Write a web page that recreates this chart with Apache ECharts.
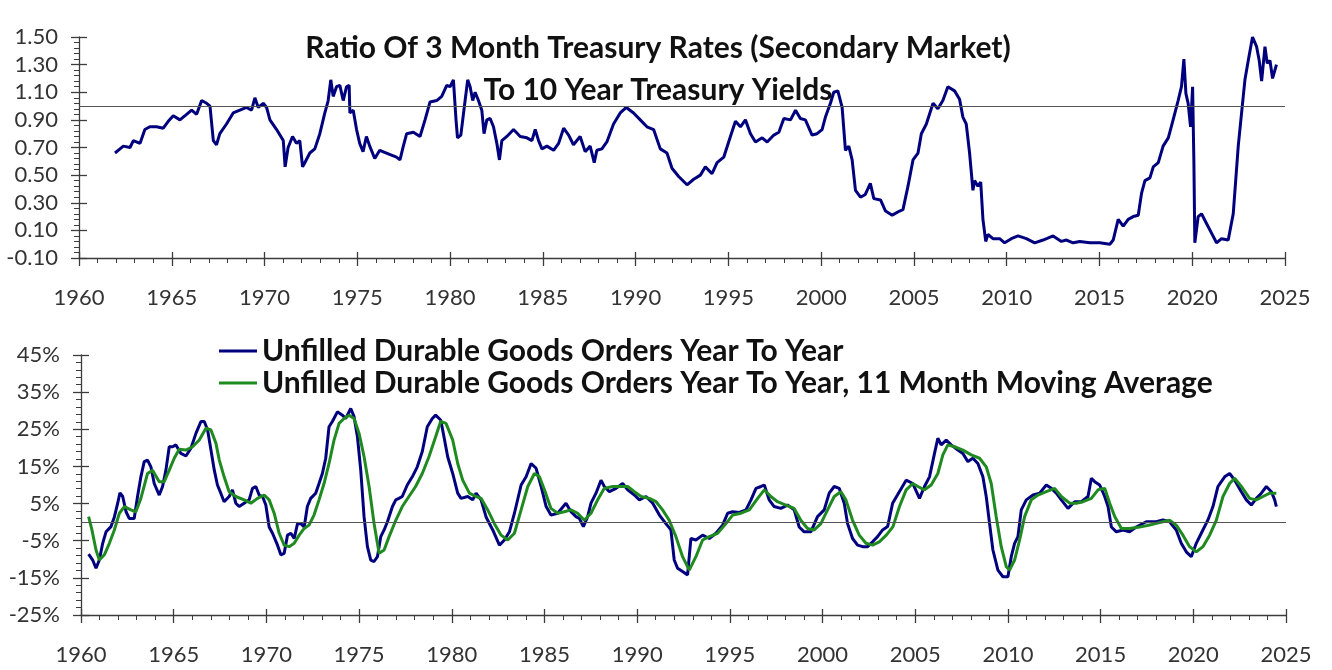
<!DOCTYPE html>
<html><head><meta charset="utf-8">
<script src="https://cdn.jsdelivr.net/npm/echarts@6/dist/echarts.min.js"></script>
<style>html,body{margin:0;padding:0;background:#fff}#c{width:1332px;height:670px}</style>
</head><body><div id="c"></div>
<script>
// ---- Top panel: ratio of 3M T-bill to 10Y yield ----
const ratioYears = [1961.94,1962.21,1962.39,1962.75,1962.93,1963.29,1963.55,1963.82,1964.18,1964.54,1964.81,1965.08,1965.44,1965.80,1966.07,1966.34,1966.61,1966.88,1967.06,1967.24,1967.41,1967.59,1967.95,1968.31,1968.67,1969.03,1969.30,1969.48,1969.66,1969.93,1970.11,1970.29,1970.65,1971.01,1971.11,1971.27,1971.51,1971.72,1971.90,1972.05,1972.17,1972.44,1972.71,1972.98,1973.25,1973.43,1973.57,1973.70,1973.88,1974.06,1974.24,1974.42,1974.56,1974.60,1974.78,1974.96,1975.13,1975.31,1975.49,1975.67,1975.94,1976.21,1976.57,1977.11,1977.30,1977.48,1977.66,1978.02,1978.38,1978.65,1978.92,1979.28,1979.55,1979.82,1980.00,1980.18,1980.32,1980.40,1980.58,1980.81,1980.95,1981.08,1981.22,1981.35,1981.53,1981.71,1981.83,1981.98,1982.16,1982.34,1982.52,1982.66,1982.79,1983.06,1983.42,1983.78,1984.14,1984.41,1984.59,1984.77,1984.95,1985.22,1985.58,1985.85,1986.12,1986.39,1986.65,1987.01,1987.28,1987.55,1987.77,1987.91,1988.18,1988.45,1988.81,1989.17,1989.50,1989.89,1990.25,1990.61,1990.97,1991.33,1991.69,1991.96,1992.32,1992.77,1993.13,1993.49,1993.76,1994.12,1994.39,1994.75,1995.11,1995.38,1995.65,1995.92,1996.19,1996.46,1996.82,1997.09,1997.45,1997.72,1997.99,1998.35,1998.62,1998.88,1999.15,1999.51,1999.78,2000.05,2000.23,2000.50,2000.68,2000.90,2001.13,2001.31,2001.49,2001.67,2001.85,2002.12,2002.38,2002.65,2002.84,2003.20,2003.47,2003.83,2004.23,2004.41,2004.68,2004.95,2005.22,2005.40,2005.67,2006.03,2006.29,2006.56,2006.83,2007.19,2007.46,2007.64,2007.82,2008.00,2008.18,2008.27,2008.45,2008.60,2008.72,2008.87,2008.99,2009.26,2009.62,2009.89,2010.25,2010.61,2011.06,2011.51,2011.96,2012.50,2012.95,2013.22,2013.58,2013.94,2014.48,2015.02,2015.56,2015.74,2016.01,2016.28,2016.55,2016.82,2017.09,2017.27,2017.45,2017.72,2017.90,2018.17,2018.43,2018.71,2018.97,2019.24,2019.42,2019.55,2019.66,2019.78,2019.91,2020.02,2020.09,2020.14,2020.32,2020.50,2020.77,2021.04,2021.31,2021.58,2021.94,2022.21,2022.48,2022.66,2022.84,2023.02,2023.25,2023.47,2023.61,2023.74,2023.92,2024.04,2024.19,2024.33,2024.54];
const ratioValues = [0.66,0.69,0.71,0.70,0.75,0.73,0.83,0.85,0.85,0.84,0.89,0.93,0.90,0.94,0.97,0.94,1.04,1.02,1.00,0.75,0.72,0.80,0.87,0.95,0.97,0.99,0.97,1.06,0.99,1.02,0.99,0.90,0.83,0.75,0.56,0.70,0.78,0.73,0.75,0.56,0.59,0.66,0.69,0.80,0.95,1.04,1.19,1.07,1.14,1.15,1.04,1.14,1.15,0.95,0.97,0.83,0.73,0.67,0.78,0.71,0.62,0.68,0.66,0.63,0.61,0.71,0.80,0.81,0.78,0.90,1.03,1.04,1.07,1.15,1.14,1.19,0.90,0.77,0.79,1.04,1.19,1.14,1.04,1.10,1.04,0.97,0.80,0.90,0.91,0.85,0.73,0.61,0.75,0.78,0.83,0.78,0.77,0.75,0.83,0.75,0.69,0.71,0.68,0.73,0.84,0.79,0.72,0.78,0.67,0.71,0.59,0.68,0.69,0.74,0.87,0.95,0.99,0.95,0.90,0.85,0.83,0.69,0.66,0.55,0.49,0.43,0.47,0.50,0.56,0.51,0.59,0.63,0.78,0.89,0.85,0.90,0.80,0.74,0.77,0.74,0.79,0.81,0.91,0.90,0.97,0.91,0.90,0.79,0.80,0.83,0.92,1.02,1.10,1.11,0.99,0.68,0.71,0.61,0.39,0.34,0.36,0.44,0.33,0.32,0.24,0.21,0.24,0.25,0.42,0.61,0.66,0.80,0.87,1.02,0.98,1.04,1.14,1.11,1.05,0.92,0.87,0.66,0.39,0.46,0.42,0.45,0.18,0.02,0.07,0.04,0.04,0.01,0.04,0.06,0.04,0.01,0.03,0.06,0.02,0.03,0.01,0.02,0.01,0.01,0.00,0.03,0.18,0.13,0.18,0.20,0.21,0.37,0.46,0.48,0.56,0.59,0.71,0.77,0.90,1.04,1.14,1.34,1.09,1.02,0.85,1.14,0.59,0.01,0.20,0.22,0.15,0.08,0.01,0.04,0.03,0.22,0.71,0.95,1.19,1.33,1.50,1.43,1.33,1.18,1.43,1.31,1.33,1.20,1.30];

// ---- Bottom panel: unfilled durable goods orders YoY (%) ----
const yoyYears = [1960.41,1960.63,1960.81,1960.99,1961.17,1961.35,1961.62,1961.80,1961.98,1962.10,1962.25,1962.43,1962.60,1962.87,1963.05,1963.23,1963.41,1963.59,1963.77,1963.95,1964.22,1964.40,1964.58,1964.76,1964.94,1965.12,1965.39,1965.66,1965.93,1966.20,1966.47,1966.65,1966.83,1967.01,1967.19,1967.36,1967.54,1967.72,1967.99,1968.17,1968.35,1968.53,1968.80,1969.07,1969.25,1969.43,1969.61,1969.79,1969.97,1970.15,1970.33,1970.60,1970.78,1970.96,1971.14,1971.32,1971.50,1971.68,1971.86,1972.04,1972.21,1972.39,1972.66,1972.84,1973.02,1973.20,1973.38,1973.56,1973.83,1974.10,1974.28,1974.55,1974.73,1974.91,1975.09,1975.27,1975.45,1975.63,1975.81,1975.99,1976.17,1976.35,1976.53,1976.80,1976.98,1977.15,1977.33,1977.60,1977.87,1978.14,1978.41,1978.68,1978.95,1979.13,1979.40,1979.51,1979.78,1980.05,1980.32,1980.50,1980.86,1981.13,1981.31,1981.58,1981.85,1982.21,1982.57,1982.84,1983.11,1983.38,1983.74,1984.01,1984.28,1984.55,1984.82,1985.09,1985.35,1985.71,1986.16,1986.43,1986.70,1986.88,1987.10,1987.33,1987.51,1987.78,1988.05,1988.23,1988.50,1988.86,1989.22,1989.49,1989.85,1990.12,1990.48,1990.84,1991.20,1991.55,1991.82,1992.00,1992.18,1992.45,1992.72,1992.90,1993.17,1993.53,1993.89,1994.25,1994.61,1994.88,1995.15,1995.51,1995.87,1996.14,1996.41,1996.68,1996.86,1997.12,1997.39,1997.75,1998.11,1998.47,1998.74,1999.01,1999.37,1999.73,2000.09,2000.36,2000.63,2000.90,2001.17,2001.35,2001.62,2001.89,2002.16,2002.43,2002.70,2002.97,2003.24,2003.51,2003.78,2004.04,2004.51,2004.87,2005.23,2005.50,2005.77,2006.04,2006.22,2006.40,2006.67,2006.94,2007.30,2007.57,2007.84,2008.11,2008.38,2008.65,2008.83,2009.01,2009.19,2009.46,2009.73,2010.00,2010.18,2010.36,2010.54,2010.72,2010.99,2011.35,2011.71,2012.07,2012.34,2012.61,2012.88,2013.24,2013.60,2013.96,2014.32,2014.50,2014.68,2014.95,2015.22,2015.40,2015.58,2015.85,2016.21,2016.56,2016.92,2017.46,2018.00,2018.36,2018.72,2019.08,2019.35,2019.62,2019.89,2020.16,2020.43,2020.79,2021.06,2021.33,2021.69,2021.96,2022.23,2022.59,2022.86,2023.13,2023.40,2023.67,2023.94,2024.21,2024.39,2024.48];
const yoyValues = [-8.6,-10.2,-12.4,-10.2,-5.7,-2.6,-1.2,1.4,5.1,7.9,6.9,2.8,1.0,1.0,6.9,12.2,16.3,16.7,14.9,10.4,7.3,9.6,14.0,20.3,20.3,20.8,18.5,17.8,19.9,23.9,27.1,27.1,24.8,19.4,14.0,10.0,7.8,5.5,6.9,8.7,5.1,4.2,5.1,6.0,9.1,9.6,7.3,6.9,4.6,-1.3,-3.0,-6.2,-8.8,-8.4,-3.5,-3.0,-4.4,-0.4,-0.4,-1.3,4.2,6.4,7.8,10.4,13.1,17.2,25.7,27.1,29.7,28.8,27.9,30.6,28.4,23.0,14.0,1.4,-6.6,-10.2,-10.6,-9.3,-3.9,-2.1,0.1,4.2,6.0,6.4,6.9,10.0,12.2,14.9,19.0,25.7,27.9,28.8,27.5,24.8,17.6,13.1,7.8,6.4,6.9,6.0,7.8,6.0,1.4,-2.1,-6.2,-4.8,-2.6,2.4,10.0,12.2,15.8,14.5,9.6,4.2,1.9,2.4,5.1,2.8,1.5,1.0,-1.2,1.5,5.1,7.8,11.3,9.6,8.2,9.1,10.4,8.7,7.3,6.0,6.9,5.1,1.9,-0.4,-2.1,-10.2,-12.4,-13.3,-14.2,-4.4,-4.8,-3.5,-4.4,-3.0,-0.8,2.4,2.8,2.6,3.3,6.0,9.1,9.6,10.0,6.0,4.2,3.7,4.6,3.3,-1.3,-2.6,-2.6,1.5,3.3,7.8,9.6,9.1,5.1,-0.4,-4.4,-6.2,-6.6,-6.6,-5.3,-3.9,-2.1,-1.2,5.1,7.3,11.3,10.4,6.4,9.6,12.2,18.5,22.6,20.8,22.1,20.8,19.4,18.5,16.3,17.2,15.8,12.2,6.9,-0.4,-7.5,-12.9,-14.7,-14.7,-9.3,-5.7,-3.9,3.3,6.0,7.3,7.8,10.0,9.1,7.8,6.0,3.7,5.5,5.5,6.9,11.8,10.9,10.0,6.9,4.2,-1.3,-2.6,-2.1,-2.6,-1.3,0.1,0.1,0.6,0.1,-2.1,-5.7,-8.0,-9.3,-5.7,-3.0,0.6,4.2,9.6,12.2,13.1,11.3,8.2,6.0,4.6,6.4,7.8,9.6,8.2,6.0,4.2];

const maYears = [1960.41,1960.59,1960.81,1960.99,1961.26,1961.53,1961.80,1962.07,1962.34,1962.69,1962.96,1963.23,1963.59,1963.86,1964.22,1964.49,1964.76,1965.03,1965.30,1965.66,1966.02,1966.38,1966.74,1967.01,1967.28,1967.46,1967.72,1967.99,1968.35,1968.80,1969.16,1969.52,1969.88,1970.15,1970.42,1970.69,1970.96,1971.23,1971.50,1971.77,1972.04,1972.30,1972.57,1972.84,1973.11,1973.38,1973.65,1973.92,1974.19,1974.46,1974.73,1975.00,1975.27,1975.54,1975.81,1976.08,1976.35,1976.62,1976.98,1977.33,1977.69,1978.05,1978.41,1978.77,1979.13,1979.40,1979.69,1980.05,1980.32,1980.59,1980.95,1981.31,1981.58,1981.94,1982.30,1982.66,1983.02,1983.38,1983.74,1984.10,1984.46,1984.73,1985.00,1985.35,1985.71,1986.07,1986.43,1986.79,1987.15,1987.51,1987.87,1988.23,1988.68,1989.14,1989.49,1989.85,1990.21,1990.66,1991.02,1991.37,1991.73,1992.09,1992.45,1992.81,1993.17,1993.53,1993.89,1994.34,1994.79,1995.15,1995.60,1996.05,1996.50,1996.86,1997.21,1997.57,1998.02,1998.47,1998.83,1999.19,1999.55,1999.91,2000.27,2000.63,2000.99,2001.26,2001.62,2001.98,2002.34,2002.70,2003.06,2003.44,2003.80,2004.15,2004.51,2004.87,2005.14,2005.50,2005.86,2006.22,2006.49,2006.76,2007.12,2007.57,2008.02,2008.47,2008.83,2009.10,2009.37,2009.64,2009.91,2010.09,2010.36,2010.63,2010.90,2011.26,2011.62,2012.07,2012.52,2012.88,2013.33,2013.69,2014.05,2014.50,2014.86,2015.22,2015.49,2015.76,2016.12,2016.56,2017.10,2017.64,2018.18,2018.72,2019.08,2019.44,2019.80,2020.16,2020.52,2020.88,2021.24,2021.60,2021.96,2022.23,2022.59,2023.04,2023.40,2023.76,2024.12,2024.48];
const maValues = [1.5,-2.1,-7.5,-10.2,-8.8,-5.7,-2.1,2.4,4.2,3.3,2.8,6.4,13.1,14.0,10.9,10.9,14.0,17.2,19.6,19.4,20.3,22.1,25.3,24.8,21.2,16.7,12.2,8.2,6.9,6.0,5.1,6.4,7.3,6.0,2.4,-3.0,-6.2,-6.6,-5.7,-3.5,-1.7,-0.8,1.9,6.0,10.4,15.8,22.1,26.6,27.9,28.8,27.9,23.9,17.6,9.6,-0.4,-8.4,-7.5,-3.9,0.5,4.2,6.9,9.6,13.1,17.6,23.0,27.1,26.6,22.1,15.8,11.3,7.8,6.9,6.4,3.3,-0.4,-3.5,-4.8,-3.0,3.3,9.6,13.1,12.2,8.7,3.7,2.4,2.8,3.3,2.4,0.5,2.4,6.0,9.1,9.6,9.6,9.6,8.2,6.9,6.4,5.5,3.3,0.5,-3.9,-9.3,-12.9,-9.3,-4.8,-3.9,-3.0,-0.4,1.9,2.4,3.3,6.4,8.7,6.9,5.5,4.6,3.7,0.5,-1.7,-2.1,-0.4,3.3,6.9,8.2,6.0,0.5,-3.5,-5.7,-6.2,-5.3,-3.5,-1.2,4.2,8.7,10.4,9.6,8.7,10.0,13.1,18.1,20.8,20.3,19.4,18.1,17.2,14.9,10.4,1.4,-6.6,-12.0,-12.9,-10.2,-4.8,1.5,6.0,7.3,8.2,9.1,6.9,5.1,5.1,5.5,6.4,8.7,9.1,5.1,1.5,-1.7,-1.7,-1.3,-0.8,-0.1,0.5,-0.8,-3.5,-6.6,-8.0,-6.6,-3.5,0.5,6.9,10.4,11.8,9.6,6.4,6.0,6.9,7.8,7.8];

const xTickLabels = ['1960','1965','1970','1975','1980','1985','1990','1995','2000','2005','2010','2015','2020','2025'];
const titleLines = ['Ratio Of 3 Month Treasury Rates (Secondary Market)', 'To 10 Year Treasury Yields'];
const seriesNames = ['Unfilled Durable Goods Orders Year To Year', 'Unfilled Durable Goods Orders Year To Year, 11 Month Moving Average'];

const zip = (xs, ys) => xs.map((x, i) => [x, ys[i]]);
const FONT = 'Lato';
const AX = '#3c3c3c';
const LBL = '#333';

function xAx(grid, main, margin) {
  return {
    type: 'value', gridIndex: grid, min: 1960, max: 2025, interval: 5, position: 'bottom',
    axisLine: { show: main, onZero: false, lineStyle: { color: AX, width: 1.3 } },
    axisTick: { show: true, inside: !main, length: main ? 8 : 6, lineStyle: { color: AX, width: 1.3 } },
    minorTick: { show: main, splitNumber: 5, length: 5, lineStyle: { color: AX, width: 1 } },
    splitLine: { show: false },
    axisLabel: { show: main, margin: margin, fontFamily: FONT, fontSize: 22, color: LBL,
      formatter: v => xTickLabels[Math.round((v - 1960) / 5)] }
  };
}
function yAx(grid, main, min, max, interval, fmt) {
  return {
    type: 'value', gridIndex: grid, min: min, max: max, interval: interval, position: 'left',
    axisLine: { show: main, onZero: false, lineStyle: { color: AX, width: 1.3 } },
    axisTick: { show: true, inside: !main, length: 8, lineStyle: { color: AX, width: 1.3 } },
    minorTick: { show: main, splitNumber: 5, length: 5, lineStyle: { color: AX, width: 1 } },
    splitLine: { show: false },
    axisLabel: { show: main, margin: 21, fontFamily: FONT, fontSize: 22, color: LBL, formatter: fmt }
  };
}

const chart = echarts.init(document.getElementById('c'), null, { renderer: 'canvas' });
chart.setOption({
  backgroundColor: '#fff',
  animation: false,
  title: {
    text: titleLines.join('\n'), left: 653, top: 22, textAlign: 'center',
    textStyle: { fontFamily: FONT, fontSize: 30, fontWeight: 'bold', color: '#111', lineHeight: 42 }
  },
  legend: {
    orient: 'vertical', left: 214, top: 330, itemGap: 0, itemWidth: 38, itemHeight: 3, icon: 'rect',
    data: seriesNames,
    textStyle: { fontFamily: FONT, fontSize: 30, fontWeight: 'bold', color: '#111', lineHeight: 32 }
  },
  grid: [
    { left: 79, top: 37, width: 1206, height: 221 },
    { left: 81, top: 355, width: 1205, height: 260 }
  ],
  xAxis: [xAx(0, true, 29), xAx(0, false, 29), xAx(1, true, 29), xAx(1, false, 29)],
  yAxis: [
    yAx(0, true, -0.1, 1.5, 0.2, v => v.toFixed(2)),
    yAx(0, false, -0.1, 1.5, 0.2, v => v.toFixed(2)),
    yAx(1, true, -25, 45, 10, v => Math.round(v) + '%'),
    yAx(1, false, -25, 45, 10, v => Math.round(v) + '%')
  ],
  series: [
    {
      name: 'ratio', type: 'line', xAxisIndex: 0, yAxisIndex: 0, symbol: 'none',
      data: zip(ratioYears, ratioValues),
      lineStyle: { color: '#00007f', width: 3 }, itemStyle: { color: '#00007f' },
      markLine: { silent: true, symbol: 'none', label: { show: false },
        lineStyle: { color: '#555', width: 1.2, type: 'solid' }, data: [{ yAxis: 1.0 }] }
    },
    {
      name: seriesNames[0], type: 'line', xAxisIndex: 2, yAxisIndex: 2, symbol: 'none',
      data: zip(yoyYears, yoyValues),
      lineStyle: { color: '#00007f', width: 3 }, itemStyle: { color: '#00007f' },
      markLine: { silent: true, symbol: 'none', label: { show: false },
        lineStyle: { color: '#555', width: 1.2, type: 'solid' }, data: [{ yAxis: 0 }] }
    },
    {
      name: seriesNames[1], type: 'line', xAxisIndex: 2, yAxisIndex: 2, symbol: 'none',
      data: zip(maYears, maValues),
      lineStyle: { color: '#1f8a1f', width: 3 }, itemStyle: { color: '#1f8a1f' }
    }
  ]
});
</script>
</body></html>
